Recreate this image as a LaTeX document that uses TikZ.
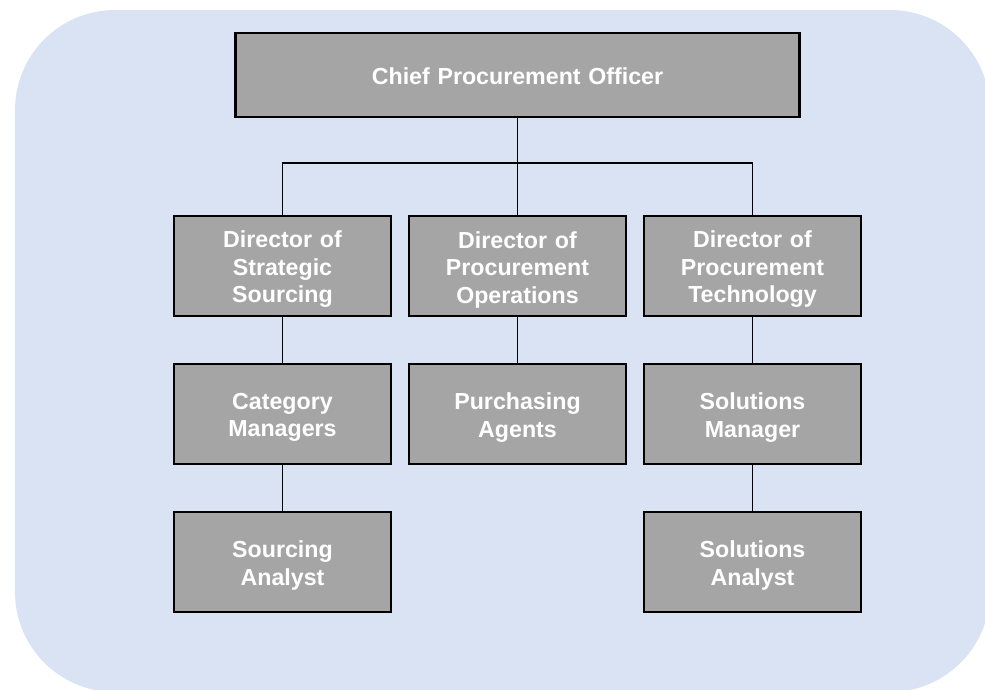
\documentclass[tikz,border=0pt]{standalone}
\usepackage{fontspec}
\setmainfont{Liberation Sans}
\definecolor{bgblue}{HTML}{DAE3F3}
\definecolor{boxgray}{HTML}{A5A5A5}
\begin{document}
\begin{tikzpicture}[x=1pt,y=-1pt,
  rolebox/.style={draw=black,line width=2.5pt,fill=boxgray,
    minimum width=217pt,minimum height=100pt,inner sep=0pt},
  roletext/.style={text=white,font=\bfseries\fontsize{23.2}{27.5}\selectfont,
    align=center,inner sep=0pt,text width=214pt,yshift=-3.5pt},
  link/.style={draw=black,line width=1.2pt}]
\useasboundingbox (0,0) rectangle (985,689);
\begin{scope}
\clip (0,0) rectangle (985,689);
\fill[bgblue,rounded corners=100pt] (15,10) rectangle (990,692);
\end{scope}
\node[rolebox,minimum width=564pt,minimum height=84pt] (cpo) at (517.5,75) {};
\node[rolebox] (d1) at (282.5,266) {};
\node[rolebox] (d2) at (517.5,266) {};
\node[rolebox] (d3) at (752.5,266) {};
\node[rolebox] (c1) at (282.5,414) {};
\node[rolebox] (c2) at (517.5,414) {};
\node[rolebox] (c3) at (752.5,414) {};
\node[rolebox] (e1) at (282.5,562) {};
\node[rolebox] (e3) at (752.5,562) {};
\node[roletext,text width=550pt,yshift=2pt] (cpot) at (cpo.center) {Chief Procurement Officer};
\node[roletext] (d1t) at (d1.center) {Director of\\Strategic\\Sourcing};
\node[roletext] (d2t) at (d2.center) {Director of\\Procurement\\Operations};
\node[roletext] (d3t) at (d3.center) {Director of\\Procurement\\Technology};
\node[roletext] (c1t) at (c1.center) {Category\\Managers};
\node[roletext] (c2t) at (c2.center) {Purchasing\\Agents};
\node[roletext] (c3t) at (c3.center) {Solutions\\Manager};
\node[roletext] (e1t) at (e1.center) {Sourcing\\Analyst};
\node[roletext] (e3t) at (e3.center) {Solutions\\Analyst};
\coordinate (bus) at (517.5,163);
\draw[link] (cpo.south) -- (bus);
\draw[link] (d1.north) |- (bus) -| (d3.north);
\draw[link] (bus) -- (d2.north);
\draw[link] (d1) -- (c1);
\draw[link] (d2) -- (c2);
\draw[link] (d3) -- (c3);
\draw[link] (c1) -- (e1);
\draw[link] (c3) -- (e3);
\end{tikzpicture}
\end{document}
